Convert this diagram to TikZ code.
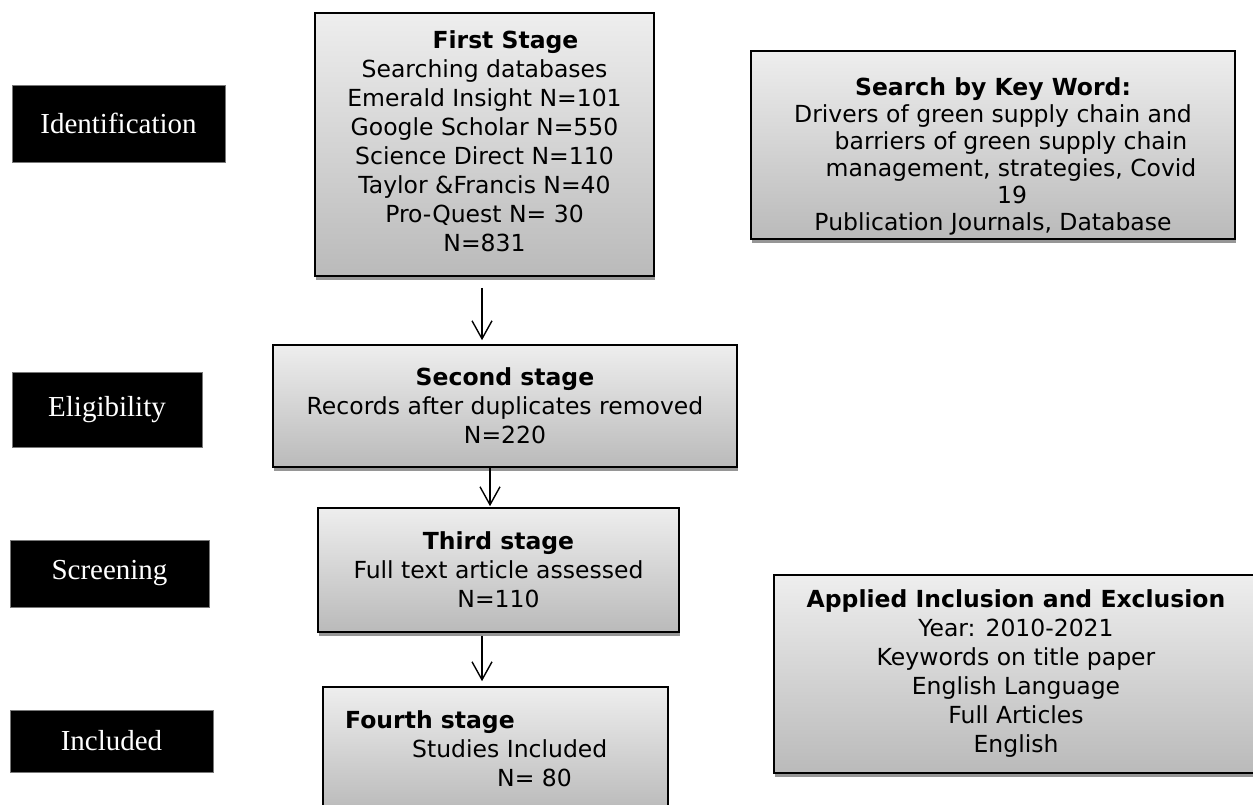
\documentclass[tikz,border=0pt]{standalone}
\usepackage{fontspec}
\setmainfont{DejaVu Sans}
\newfontfamily\labfont{Liberation Serif}
\usetikzlibrary{arrows.meta,shadows}
\definecolor{boxtop}{RGB}{238,238,238}
\definecolor{boxbot}{RGB}{186,186,186}
\definecolor{shadowc}{RGB}{150,150,150}
\definecolor{labedge}{RGB}{120,120,120}
\begin{document}
\begin{tikzpicture}[x=1pt,y=-1pt,
  stagebox/.style={draw=black, line width=1.6pt, top color=boxtop, bottom color=boxbot,
    drop shadow={shadow xshift=1pt,shadow yshift=-4pt,fill=shadowc,opacity=1},
    inner sep=0pt, align=center, font=\fontsize{23.5}{29}\selectfont},
  phasebox/.style={fill=black, draw=labedge, line width=0.8pt, text=white, inner sep=0pt,
    font=\labfont\fontsize{29}{34}\selectfont},
  plaintext/.style={inner sep=0pt, font=\fontsize{23.5}{29}\selectfont},
  arr/.style={line width=1.4pt, -{Straight Barb[length=18pt,width=20pt]}},
]
\useasboundingbox (0,0) rectangle (1253,805);

% phase labels
\node[phasebox, minimum width=213pt, minimum height=77pt] (ph1) at (118.5,123.5) {Identification};
\node[phasebox, minimum width=190pt, minimum height=75pt] (ph2) at (107,409.5) {Eligibility};
\node[phasebox, minimum width=199pt, minimum height=67pt] (ph3) at (109.5,573.5) {Screening};
\node[phasebox, minimum width=203pt, minimum height=62pt] (ph4) at (111.5,741) {Included};

% stage boxes
\node[stagebox, minimum width=339pt, minimum height=263pt] (s1) at (484.5,144.5)
  {\hspace*{42pt}\textbf{First Stage}\\
   Searching databases\\
   Emerald Insight N=101\\
   Google Scholar N=550\\
   Science Direct N=110\\
   Taylor \&Francis N=40\\
   Pro-Quest N= 30\\
   N=831\rule[-7pt]{0pt}{7pt}};

\node[stagebox, minimum width=484pt, minimum height=188pt, font=\fontsize{23.5}{27}\selectfont] (k1) at (993,145)
  {\rule{0pt}{40pt}\textbf{Search by Key Word:}\\
   Drivers of green supply chain and\\
   \hspace*{36pt}barriers of green supply chain\\
   \hspace*{36pt}management, strategies, Covid\\
   \hspace*{38pt}19\\
   Publication Journals, Database};

\node[stagebox, minimum width=464pt, minimum height=122pt] (s2) at (505,406)
  {\textbf{Second stage}\\
   Records after duplicates removed\\
   N=220};

\node[stagebox, minimum width=361pt, minimum height=124pt] (s3) at (498.5,570)
  {\textbf{Third stage}\\
   Full text article assessed\\
   N=110};

\node[stagebox, minimum width=345pt, minimum height=125pt] (s4) at (495.5,749.5) {};
\node[plaintext, anchor=north west, align=left] (s4t) at (345,710)
  {\textbf{Fourth stage}\\
   \hspace*{67pt}Studies Included\\
   \hspace*{152pt}N= 80};

\node[stagebox, minimum width=484pt, minimum height=198pt] (k2) at (1016,674)
  {\textbf{Applied Inclusion and Exclusion}\\
   Year: 2010-2021\\
   Keywords on title paper\\
   English Language\\
   Full Articles\\
   English};

% arrows
\draw[arr] ([xshift=-2.5pt,yshift=-11pt]s1.south) -- ([xshift=-23pt,yshift=4pt]s2.north);
\draw[arr] ([xshift=-15pt]s2.south) -- ([xshift=-8.5pt,yshift=1pt]s3.north);
\draw[arr] ([xshift=-16.5pt,yshift=-3pt]s3.south) -- ([xshift=-13.5pt,yshift=5pt]s4.north);
\end{tikzpicture}
\end{document}
